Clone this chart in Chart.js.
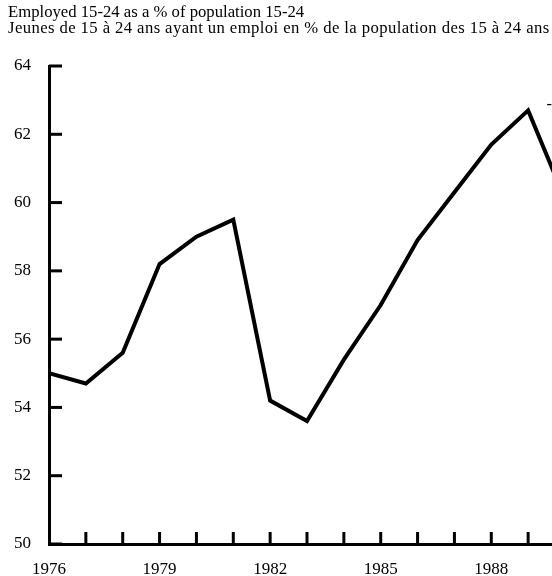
<!DOCTYPE html>
<html>
<head>
<meta charset="utf-8">
<script src="https://cdn.jsdelivr.net/npm/chart.js@4/dist/chart.umd.min.js"></script>
<style>
  html, body { margin: 0; padding: 0; background: #fff; overflow: hidden; }
  #wrap { position: relative; width: 600px; height: 576px; }
</style>
</head>
<body>
<div id="wrap"><canvas id="chart"></canvas></div>
<script>
// Data
const years  = [1976, 1977, 1978, 1979, 1980, 1981, 1982, 1983, 1984, 1985, 1986, 1987, 1988, 1989, 1990];
const values = [55.0, 54.7, 55.6, 58.2, 59.0, 59.5, 54.2, 53.6, 55.4, 57.0, 58.9, 60.3, 61.7, 62.7, 60.1];
const xTickLabels = ['1976', '1979', '1982', '1985', '1988'];
const yTicks = [50, 52, 54, 56, 58, 60, 62, 64];
const titleLines = [
  'Employed 15-24 as a % of population 15-24',
  'Jeunes de 15 à 24 ans ayant un emploi en % de la population des 15 à 24 ans',
];

const FONT = "'Liberation Serif', 'Times New Roman', serif";

// Title text + inward tick marks + cut-off label dash
const decor = {
  id: 'decor',
  afterDraw(chart) {
    const { ctx, chartArea: a, scales: { x, y } } = chart;
    ctx.save();
    ctx.fillStyle = '#000';
    ctx.font = `16.7px ${FONT}`;
    ctx.textBaseline = 'alphabetic';
    ctx.textAlign = 'left';
    ctx.fillText(titleLines[0], 8, 17);
    ctx.letterSpacing = '0.4px';
    ctx.fillText(titleLines[1], 8, 33);
    ctx.letterSpacing = '0px';

    ctx.strokeStyle = '#000';
    ctx.lineWidth = 3;
    ctx.lineCap = 'butt';
    yTicks.forEach(v => {
      const py = y.getPixelForValue(v);
      ctx.beginPath();
      ctx.moveTo(a.left, py);
      ctx.lineTo(a.left + 13, py);
      ctx.stroke();
    });
    years.slice(1).forEach(v => {
      const px = x.getPixelForValue(v);
      ctx.beginPath();
      ctx.moveTo(px, a.bottom);
      ctx.lineTo(px, a.bottom - 12);
      ctx.stroke();
    });

    // fragment of a label cut off at the right edge
    ctx.font = `16.5px ${FONT}`;
    ctx.fillText('-', x.getPixelForValue(1989.5), y.getPixelForValue(62.73));
    ctx.restore();
  }
};

new Chart(document.getElementById('chart'), {
  type: 'line',
  data: {
    datasets: [{
      label: 'Employed 15-24',
      data: years.map((yr, i) => ({ x: yr, y: values[i] })),
      borderColor: '#000',
      borderWidth: 4,
      borderJoinStyle: 'miter',
      pointRadius: 0,
      tension: 0,
      fill: false,
    }],
  },
  options: {
    responsive: true,
    maintainAspectRatio: false,
    animation: false,
    layout: { padding: { top: 66, right: 35, left: 0, bottom: 0 } },
    plugins: { legend: { display: false }, tooltip: { enabled: false }, title: { display: false } },
    scales: {
      x: {
        type: 'linear',
        min: 1976,
        max: 1990,
        grid: { display: false, drawTicks: false },
        border: { display: true, color: '#000', width: 3 },
        ticks: {
          stepSize: 1,
          autoSkip: false,
          maxRotation: 0,
          padding: 15,
          color: '#000',
          font: { family: FONT, size: 17 },
          callback: v => xTickLabels.includes(String(v)) ? String(v) : '',
        },
        afterFit: s => { s.height = 32; },
      },
      y: {
        min: 50,
        max: 64,
        grid: { display: false, drawTicks: false },
        border: { display: true, color: '#000', width: 3 },
        ticks: {
          stepSize: 2,
          padding: 18,
          color: '#000',
          font: { family: FONT, size: 17 },
          callback: v => yTicks.includes(v) ? String(v) : '',
        },
        afterFit: s => { s.width = 49; },
      },
    },
  },
  plugins: [decor],
});
</script>
</body>
</html>
